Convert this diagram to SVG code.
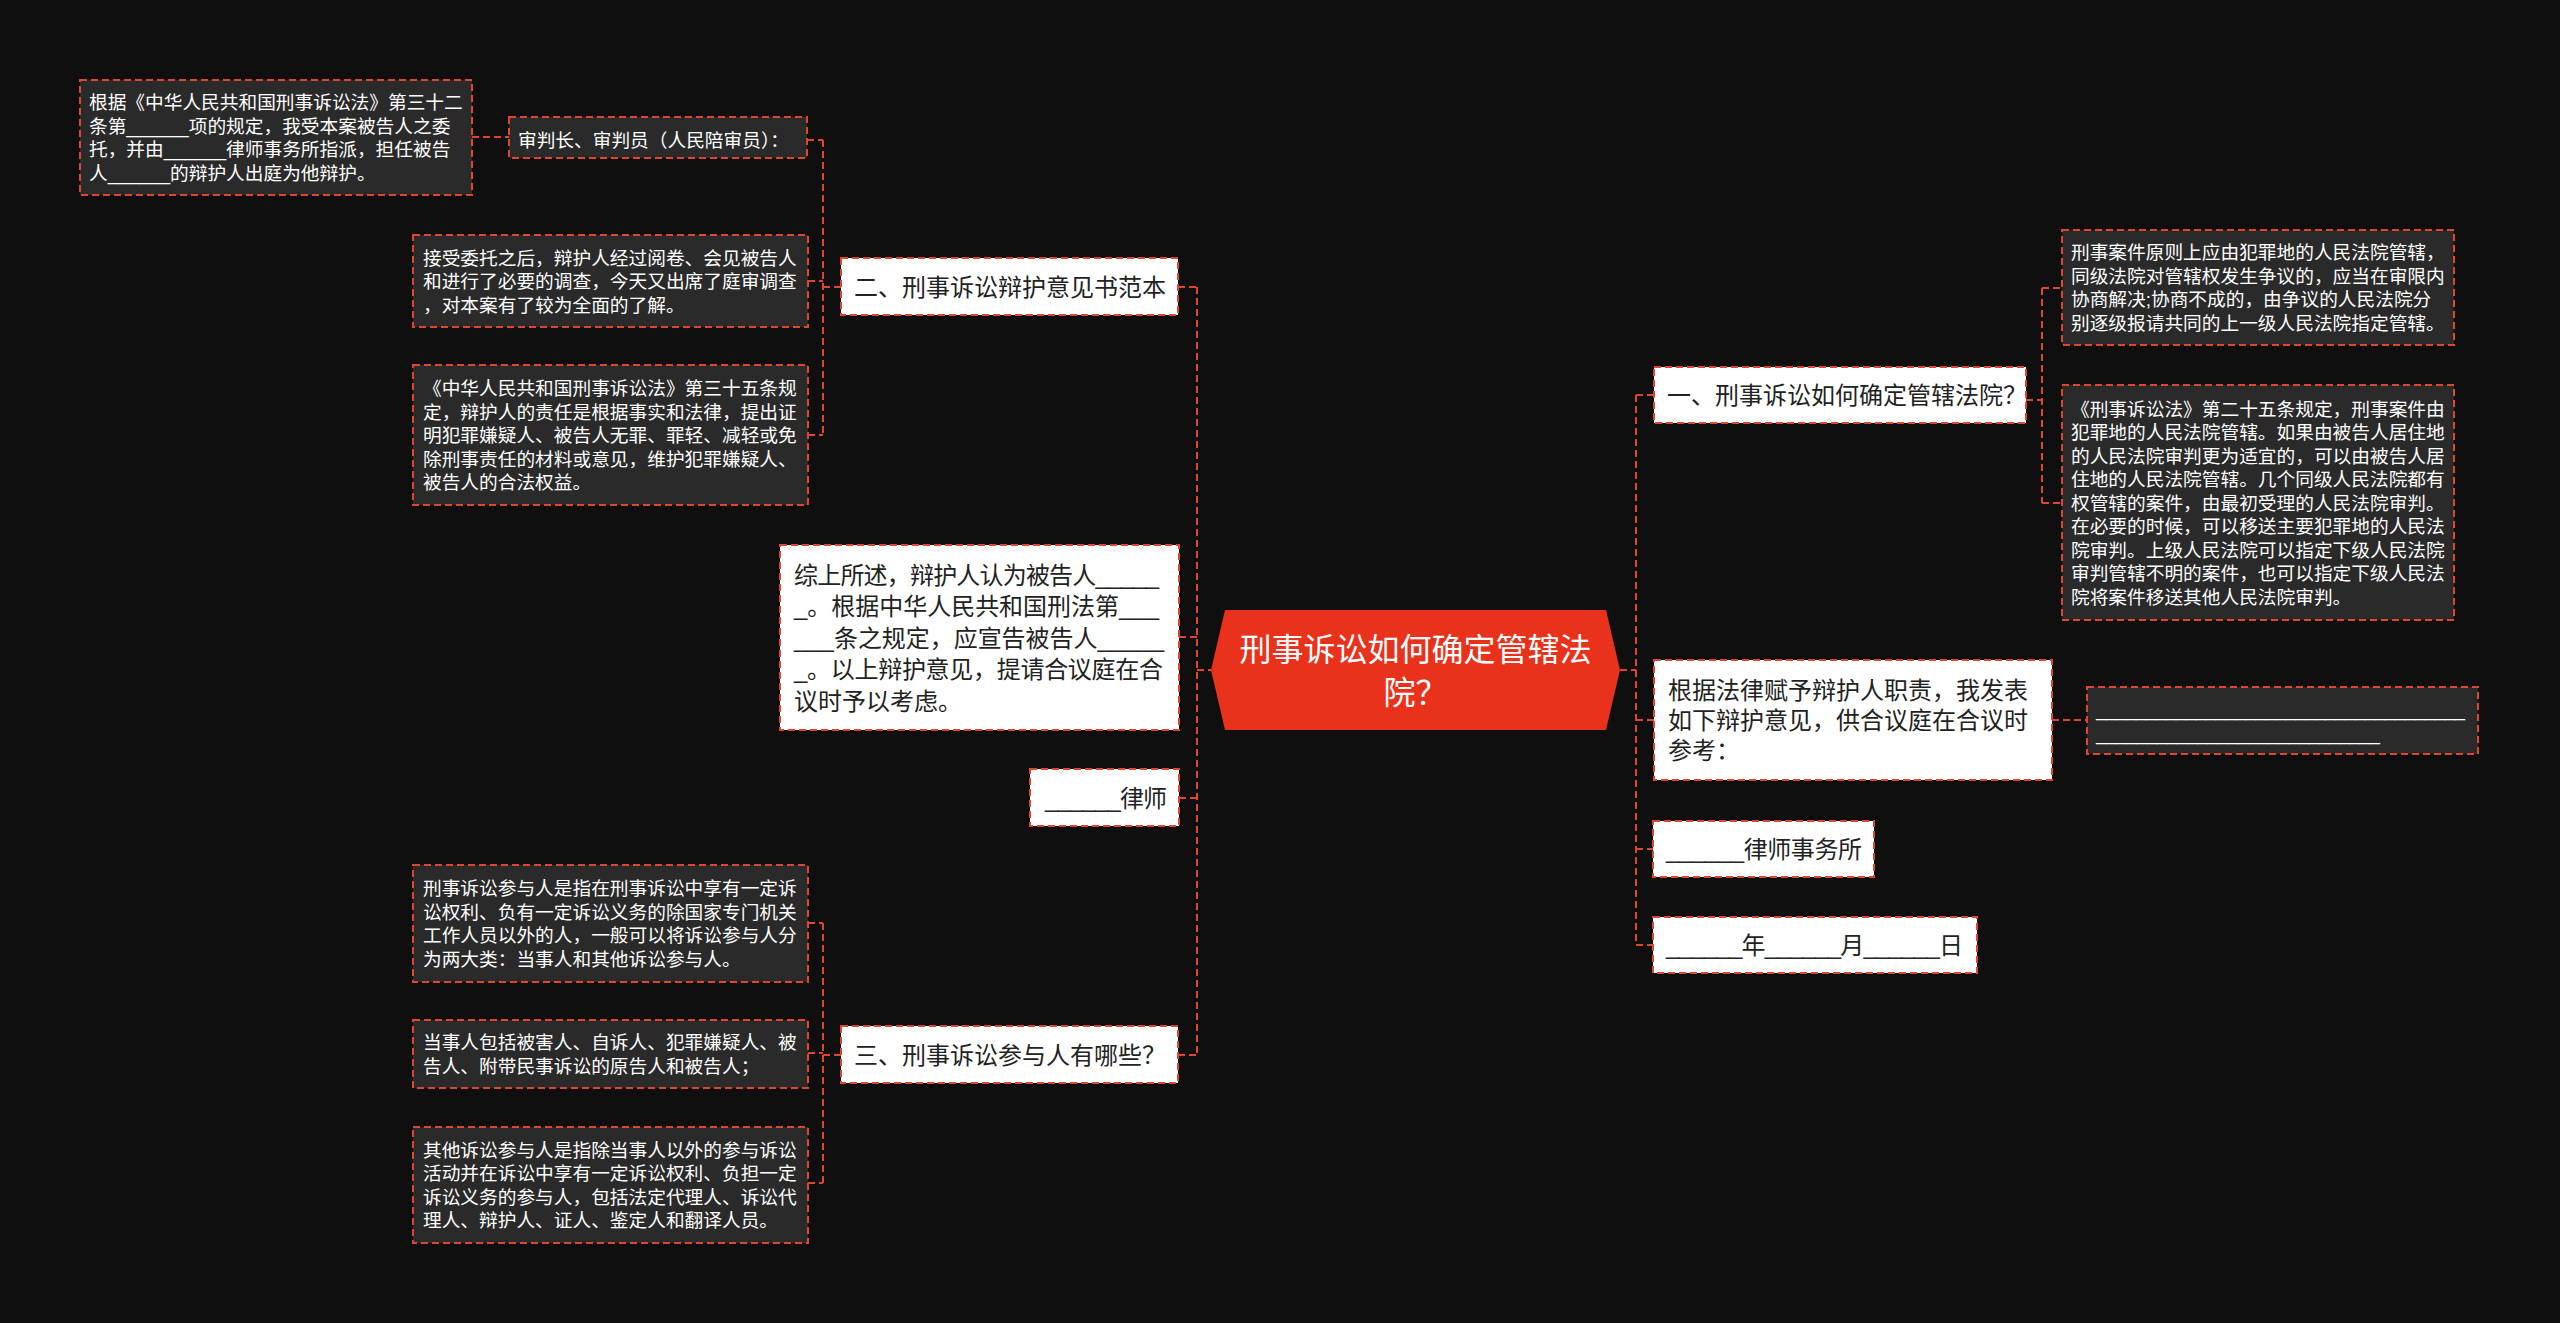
<svg xmlns="http://www.w3.org/2000/svg" width="2560" height="1323" viewBox="0 0 2560 1323">
<style>
.dk{fill:#2a2a2a;stroke:#e0452f;stroke-width:2;stroke-dasharray:7 4}
.wt{fill:#ffffff;stroke:#e0452f;stroke-width:2;stroke-dasharray:7 4}
.cn{fill:none;stroke:#e0452f;stroke-width:2;stroke-dasharray:7 4}
.ts{font-family:"Liberation Sans","Noto Sans CJK SC",sans-serif;font-size:18.7px;fill:#ffffff}
.tm{font-family:"Liberation Sans","Noto Sans CJK SC",sans-serif;font-size:24px;fill:#222222}
.tc{font-family:"Liberation Sans","Noto Sans CJK SC",sans-serif;font-size:32px;fill:#ffffff;text-anchor:middle}
</style>
<rect x="0" y="0" width="2560" height="1323" fill="#0f0f0f"/>
<g id="connectors">
<path class="cn" d="M1197 670H1211M1197 287V1055M1178 287H1197M1179 637H1197M1179 798H1197M1178 1055H1197"/>
<path class="cn" d="M1620 670H1636M1636 395V945M1636 395H1654M1636 720H1654M1636 849H1653M1636 945H1653"/>
<path class="cn" d="M823 140V435M807 140H823M808 281H823M808 435H823M823 287H841M472 137H509"/>
<path class="cn" d="M823 923V1183M808 923H823M808 1053H823M808 1183H823M823 1055H841"/>
<path class="cn" d="M2042 288V503M2026 400H2042M2042 288H2062M2042 503H2062M2052 720H2087"/>
</g>
<g id="center">
<polygon points="1225,610 1606,610 1620,670 1606,730 1225,730 1211,670" fill="#e8321c"/>
<text class="tc" x="1415.5" y="661">刑事诉讼如何确定管辖法</text>
<text class="tc" x="1415.5" y="704">院？</text>
</g>
<g id="n2">
<rect class="wt" x="841" y="258" width="337" height="57"/>
<text class="tm" x="854" y="296">二、刑事诉讼辩护意见书范本</text>
</g>
<g id="n2a">
<rect class="dk" x="509" y="117" width="298" height="41"/>
<text class="ts" x="518" y="147">审判长、审判员（人民陪审员）：</text>
</g>
<g id="n2a1">
<rect class="dk" x="80" y="80" width="392" height="115"/>
<text class="ts" x="89" y="109">根据《中华人民共和国刑事诉讼法》第三十二</text>
<text class="ts" x="89" y="132.5">条第______项的规定，我受本案被告人之委</text>
<text class="ts" x="89" y="156">托，并由______律师事务所指派，担任被告</text>
<text class="ts" x="89" y="179.5">人______的辩护人出庭为他辩护。</text>
</g>
<g id="n2b">
<rect class="dk" x="413" y="235" width="395" height="92"/>
<text class="ts" x="423" y="264.5">接受委托之后，辩护人经过阅卷、会见被告人</text>
<text class="ts" x="423" y="288">和进行了必要的调查，今天又出席了庭审调查</text>
<text class="ts" x="423" y="311.5">，对本案有了较为全面的了解。</text>
</g>
<g id="n2c">
<rect class="dk" x="413" y="365" width="395" height="140"/>
<text class="ts" x="423" y="395">《中华人民共和国刑事诉讼法》第三十五条规</text>
<text class="ts" x="423" y="418.5">定，辩护人的责任是根据事实和法律，提出证</text>
<text class="ts" x="423" y="442">明犯罪嫌疑人、被告人无罪、罪轻、减轻或免</text>
<text class="ts" x="423" y="465.5">除刑事责任的材料或意见，维护犯罪嫌疑人、</text>
<text class="ts" x="423" y="489">被告人的合法权益。</text>
</g>
<g id="nsum">
<rect class="wt" x="780" y="545" width="399" height="185"/>
<text class="tm" x="794" y="583.5" textLength="365">综上所述，辩护人认为被告人_____</text>
<text class="tm" x="794" y="615" textLength="365">_。根据中华人民共和国刑法第___</text>
<text class="tm" x="794" y="646.5" textLength="370">___条之规定，应宣告被告人_____</text>
<text class="tm" x="794" y="678" textLength="369">_。以上辩护意见，提请合议庭在合</text>
<text class="tm" x="794" y="709.5">议时予以考虑。</text>
</g>
<g id="nlawyer">
<rect class="wt" x="1030" y="769" width="149" height="57"/>
<text class="tm" x="1045" y="807" textLength="122">______律师</text>
</g>
<g id="n3">
<rect class="wt" x="841" y="1026" width="337" height="57"/>
<text class="tm" x="854" y="1064">三、刑事诉讼参与人有哪些？</text>
</g>
<g id="n3a">
<rect class="dk" x="413" y="865" width="395" height="117"/>
<text class="ts" x="423" y="895.25">刑事诉讼参与人是指在刑事诉讼中享有一定诉</text>
<text class="ts" x="423" y="918.75">讼权利、负有一定诉讼义务的除国家专门机关</text>
<text class="ts" x="423" y="942.25">工作人员以外的人，一般可以将诉讼参与人分</text>
<text class="ts" x="423" y="965.75">为两大类：当事人和其他诉讼参与人。</text>
</g>
<g id="n3b">
<rect class="dk" x="413" y="1020" width="395" height="68"/>
<text class="ts" x="423" y="1049.25">当事人包括被害人、自诉人、犯罪嫌疑人、被</text>
<text class="ts" x="423" y="1072.75">告人、附带民事诉讼的原告人和被告人；</text>
</g>
<g id="n3c">
<rect class="dk" x="413" y="1127" width="395" height="116"/>
<text class="ts" x="423" y="1156.75">其他诉讼参与人是指除当事人以外的参与诉讼</text>
<text class="ts" x="423" y="1180.25">活动并在诉讼中享有一定诉讼权利、负担一定</text>
<text class="ts" x="423" y="1203.75">诉讼义务的参与人，包括法定代理人、诉讼代</text>
<text class="ts" x="423" y="1227.25">理人、辩护人、证人、鉴定人和翻译人员。</text>
</g>
<g id="n1">
<rect class="wt" x="1654" y="367" width="372" height="56"/>
<text class="tm" x="1667" y="404">一、刑事诉讼如何确定管辖法院？</text>
</g>
<g id="n1a">
<rect class="dk" x="2062" y="230" width="392" height="115"/>
<text class="ts" x="2071" y="259.25">刑事案件原则上应由犯罪地的人民法院管辖，</text>
<text class="ts" x="2071" y="282.75">同级法院对管辖权发生争议的，应当在审限内</text>
<text class="ts" x="2071" y="306.25">协商解决;协商不成的，由争议的人民法院分</text>
<text class="ts" x="2071" y="329.75">别逐级报请共同的上一级人民法院指定管辖。</text>
</g>
<g id="n1b">
<rect class="dk" x="2062" y="385" width="392" height="235"/>
<text class="ts" x="2071" y="415.5">《刑事诉讼法》第二十五条规定，刑事案件由</text>
<text class="ts" x="2071" y="439">犯罪地的人民法院管辖。如果由被告人居住地</text>
<text class="ts" x="2071" y="462.5">的人民法院审判更为适宜的，可以由被告人居</text>
<text class="ts" x="2071" y="486">住地的人民法院管辖。几个同级人民法院都有</text>
<text class="ts" x="2071" y="509.5">权管辖的案件，由最初受理的人民法院审判。</text>
<text class="ts" x="2071" y="533">在必要的时候，可以移送主要犯罪地的人民法</text>
<text class="ts" x="2071" y="556.5">院审判。上级人民法院可以指定下级人民法院</text>
<text class="ts" x="2071" y="580">审判管辖不明的案件，也可以指定下级人民法</text>
<text class="ts" x="2071" y="603.5">院将案件移送其他人民法院审判。</text>
</g>
<g id="nbasis">
<rect class="wt" x="1654" y="660" width="398" height="120"/>
<text class="tm" x="1668" y="699">根据法律赋予辩护人职责，我发表</text>
<text class="tm" x="1668" y="729">如下辩护意见，供合议庭在合议时</text>
<text class="tm" x="1668" y="759">参考：</text>
</g>
<g id="nbasisline">
<rect class="dk" x="2087" y="687" width="391" height="67"/>
<text class="ts" x="2096" y="716" textLength="369">_____________________________________</text>
<text class="ts" x="2096" y="740" textLength="284">____________________________</text>
</g>
<g id="nfirm">
<rect class="wt" x="1653" y="821" width="221" height="56"/>
<text class="tm" x="1666" y="858" textLength="196">______律师事务所</text>
</g>
<g id="ndate">
<rect class="wt" x="1653" y="917" width="324" height="56"/>
<text class="tm" x="1666" y="954" textLength="297">______年______月______日</text>
</g>
</svg>
